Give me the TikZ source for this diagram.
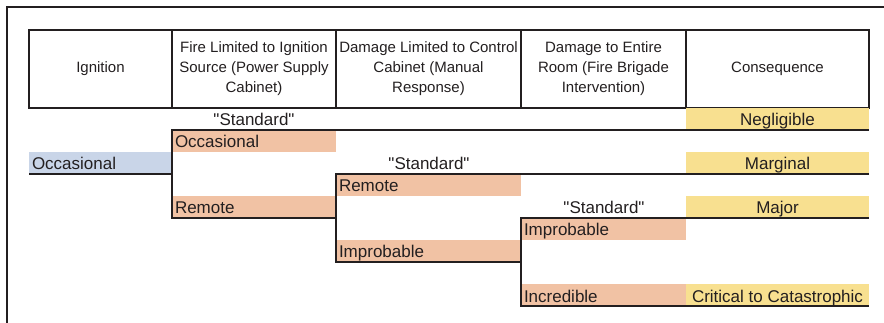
\documentclass[tikz,border=0pt]{standalone}
\usepackage{fontspec}
\setmainfont{Liberation Sans}[Ligatures=TeXOff]
\usetikzlibrary{positioning}

\definecolor{ignblue}{RGB}{201,213,232}
\definecolor{freqorange}{RGB}{241,194,164}
\definecolor{consyellow}{RGB}{248,224,144}
\definecolor{inkgray}{RGB}{35,31,32}

\begin{document}
\begin{tikzpicture}[
  x=1pt, y=-1pt,
  every node/.style={text=inkgray, inner sep=0pt, outer sep=0pt},
  head/.style={draw=inkgray, line width=2pt, minimum height=78pt, align=center,
    font=\fontsize{15}{20}\selectfont},
  cell/.style={minimum height=22pt, anchor=north west, inner xsep=3pt,
    inner ysep=2pt, text height=16pt, text depth=2pt,
    font=\fontsize{17}{20}\selectfont},
  freq/.style={cell, fill=freqorange, text width=#1, align=left},
  cons/.style={cell, fill=consyellow, minimum width=183pt, align=center},
  std/.style={anchor=base, font=\fontsize{17}{20}\selectfont},
  tree/.style={draw=inkgray, line width=2pt},
  ]
\useasboundingbox (0,0) rectangle (884,323);

% Frame
\draw[tree] (7,330) -- (7,7) -- (890,7);

% Header row
\node[head, minimum width=143pt, anchor=north west] (hIgn) at (29,30) {Ignition};
\node[head, minimum width=164pt, right=0pt of hIgn] (hSrc)
  {Fire Limited to Ignition\\Source (Power Supply\\Cabinet)};
\node[head, minimum width=185pt, right=0pt of hSrc] (hCab)
  {Damage Limited to Control\\Cabinet (Manual\\Response)};
\node[head, minimum width=165pt, right=0pt of hCab] (hRoom)
  {Damage to Entire\\Room (Fire Brigade\\Intervention)};
\node[head, minimum width=183pt, right=0pt of hRoom] (hCon) {Consequence};

% Frequencies
\node[cell, fill=ignblue, text width=137pt, align=left] (ignOcc) at (29,152) {Occasional};
\node[freq=158pt] (srcOcc) at (172,130) {Occasional};
\node[freq=158pt] (srcRem) at (172,196) {Remote};
\node[freq=179pt] (cabRem) at (336,174) {Remote};
\node[freq=179pt] (cabImp) at (336,240) {Improbable};
\node[freq=159pt] (roomImp) at (521,218) {Improbable};
\node[freq=159pt] (roomInc) at (521,284) {Incredible};

% Consequences
\node[cons] (conNeg) at (686,108) {Negligible};
\node[cons] (conMar) at (686,152) {Marginal};
\node[cons] (conMaj) at (686,196) {Major};
\node[cons] (conCat) at (686,284) {Critical to Catastrophic};

% Standard branches
\node[std] (std1) at (254,126) {"Standard"};
\node[std] (std2) at (429,170) {"Standard"};
\node[std] (std3) at (604,214) {"Standard"};

% Tree lines
\draw[tree] (ignOcc.south west) -- (ignOcc.south east);
\draw[tree] (conNeg.south east) -- (srcOcc.north west) -- (srcRem.south west) -- (srcRem.south east);
\draw[tree] (conMar.south east) -- (cabRem.north west) -- (cabImp.south west) -- (cabImp.south east);
\draw[tree] (conMaj.south east) -- (roomImp.north west) -- (roomInc.south west) -- (conCat.south east);

\end{tikzpicture}
\end{document}
